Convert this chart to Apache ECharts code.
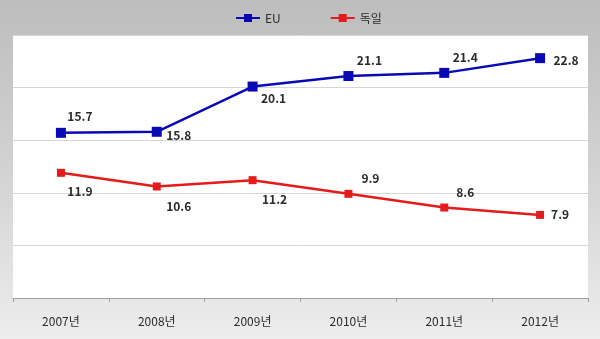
<!DOCTYPE html>
<html>
<head>
<meta charset="utf-8">
<script src="https://cdn.jsdelivr.net/npm/echarts@6/dist/echarts.min.js"></script>
<style>
  html, body { margin: 0; padding: 0; }
  #chart { width: 600px; height: 339px; }
</style>
</head>
<body>
<div id="chart"></div>
<script>
// Yearly values for the EU and Germany
const years = ['2007년', '2008년', '2009년', '2010년', '2011년', '2012년'];
const euValues = [15.7, 15.8, 20.1, 21.1, 21.4, 22.8];
const deValues = [11.9, 10.6, 11.2, 9.9, 8.6, 7.9];
const seriesNames = ['EU', '독일'];

// Label placement per point (offsets in px from the marker)
const euLabelOffsets = [[19, -16], [22, 4], [21, 12], [21, -16], [21, -15], [26, 2]];
const deLabelOffsets = [[19, 19], [22, 20], [22, 19], [22, -15], [21, -15], [20, 0]];

function withLabels(values, offsets) {
  return values.map((v, i) => ({
    value: v,
    label: { offset: offsets[i] }
  }));
}

const labelStyle = {
  show: true,
  position: 'inside',
  color: '#2b2b2b',
  fontSize: 12,
  fontWeight: 'bold',
  fontFamily: 'Noto Sans CJK KR',
  formatter: p => p.value.toFixed(1)
};

const chart = echarts.init(document.getElementById('chart'), null, { renderer: 'canvas' });
chart.setOption({
  animation: false,
  backgroundColor: new echarts.graphic.LinearGradient(0, 0, 0, 1, [
    { offset: 0, color: '#bdbdbd' },
    { offset: 0.5, color: '#d2d2d2' },
    { offset: 1, color: '#ededed' }
  ]),
  textStyle: { fontFamily: 'Noto Sans CJK KR' },
  legend: {
    top: 7,
    left: 230,
    itemGap: 49,
    itemWidth: 24,
    itemHeight: 10,
    textStyle: { fontSize: 12, color: '#2b2b2b', fontFamily: 'Noto Sans CJK KR' },
    data: seriesNames
  },
  grid: {
    left: 13,
    right: 12,
    top: 35,
    bottom: 41,
    show: true,
    backgroundColor: '#ffffff',
    borderWidth: 0
  },
  xAxis: {
    type: 'category',
    data: years,
    boundaryGap: true,
    axisLine: { lineStyle: { color: '#a0a0a0', width: 1 } },
    axisTick: { show: true, length: 4, inside: false, lineStyle: { color: '#a0a0a0' } },
    axisLabel: { color: '#2b2b2b', fontSize: 12, margin: 17, fontFamily: 'Noto Sans CJK KR' }
  },
  yAxis: {
    type: 'value',
    min: 0,
    max: 25,
    interval: 5,
    axisLine: { show: false },
    axisTick: { show: false },
    axisLabel: { show: false },
    splitLine: { lineStyle: { color: '#d6d6d6', width: 1 } }
  },
  series: [
    {
      name: seriesNames[0],
      type: 'line',
      data: withLabels(euValues, euLabelOffsets),
      symbol: 'rect',
      symbolSize: 10,
      lineStyle: { color: '#0a0ab4', width: 2.5 },
      itemStyle: { color: '#0a0ab4' },
      label: labelStyle
    },
    {
      name: seriesNames[1],
      type: 'line',
      data: withLabels(deValues, deLabelOffsets),
      symbol: 'rect',
      symbolSize: 8,
      lineStyle: { color: '#e41b1b', width: 2.5 },
      itemStyle: { color: '#e41b1b' },
      label: labelStyle
    }
  ]
});
</script>
</body>
</html>
